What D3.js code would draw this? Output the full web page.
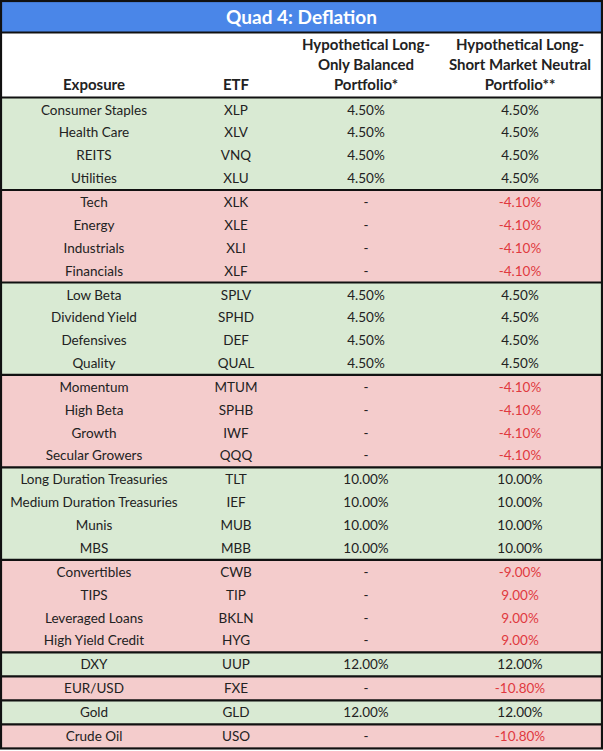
<!DOCTYPE html>
<html>
<head>
<meta charset="utf-8">
<script src="https://cdn.jsdelivr.net/npm/d3@7"></script>
<style>
  html, body { margin: 0; padding: 0; background: #fff; }
  text { font-family: Lato, "Open Sans", sans-serif; }
</style>
</head>
<body>
<div id="table"></div>
<script>
const title = "Quad 4: Deflation";
const headers = [
  ["Exposure"],
  ["ETF"],
  ["Hypothetical Long-", "Only Balanced", "Portfolio*"],
  ["Hypothetical Long-", "Short Market Neutral", "Portfolio**"]
];
const exposures = [
  "Consumer Staples", "Health Care", "REITS", "Utilities",
  "Tech", "Energy", "Industrials", "Financials",
  "Low Beta", "Dividend Yield", "Defensives", "Quality",
  "Momentum", "High Beta", "Growth", "Secular Growers",
  "Long Duration Treasuries", "Medium Duration Treasuries", "Munis", "MBS",
  "Convertibles", "TIPS", "Leveraged Loans", "High Yield Credit",
  "DXY", "EUR/USD", "Gold", "Crude Oil"
];
const etfs = [
  "XLP", "XLV", "VNQ", "XLU",
  "XLK", "XLE", "XLI", "XLF",
  "SPLV", "SPHD", "DEF", "QUAL",
  "MTUM", "SPHB", "IWF", "QQQ",
  "TLT", "IEF", "MUB", "MBB",
  "CWB", "TIP", "BKLN", "HYG",
  "UUP", "FXE", "GLD", "USO"
];
const longOnly = [
  "4.50%", "4.50%", "4.50%", "4.50%",
  "-", "-", "-", "-",
  "4.50%", "4.50%", "4.50%", "4.50%",
  "-", "-", "-", "-",
  "10.00%", "10.00%", "10.00%", "10.00%",
  "-", "-", "-", "-",
  "12.00%", "-", "12.00%", "-"
];
const longShort = [
  "4.50%", "4.50%", "4.50%", "4.50%",
  "-4.10%", "-4.10%", "-4.10%", "-4.10%",
  "4.50%", "4.50%", "4.50%", "4.50%",
  "-4.10%", "-4.10%", "-4.10%", "-4.10%",
  "10.00%", "10.00%", "10.00%", "10.00%",
  "-9.00%", "9.00%", "9.00%", "9.00%",
  "12.00%", "-10.80%", "12.00%", "-10.80%"
];
// rows per group and whether the group is long (green) or short (red)
const groupSizes = [4, 4, 4, 4, 4, 4, 1, 1, 1, 1];
const groupLong = [true, false, true, false, true, false, true, false, true, false];

const W = 603, H = 751;
const titleH = 32.5, headerBottom = 97.5;
const rowH = 22.83, gap = 1.17;
const textNudge = 1.6; // "middle" baseline sits a little high for Lato

const colors = {
  title: "#4a86e8",
  long: "#d9ead3",
  short: "#f4cccc",
  text: "#222",
  red: "#e0393e",
  line: "#111"
};

// build rows with their group index
const groupOf = [];
groupSizes.forEach((n, g) => { for (let i = 0; i < n; i++) groupOf.push(g); });
const rows = exposures.map((e, i) => ({
  exposure: e, etf: etfs[i], lo: longOnly[i], ls: longShort[i],
  row: i, group: groupOf[i]
}));

const groupStart = d3.cumsum([0, ...groupSizes]);
const groups = groupSizes.map((n, g) => ({ g, start: groupStart[g], n, long: groupLong[g] }));

const x = d3.scaleOrdinal().domain(d3.range(4)).range([94, 236, 366, 520]);
const y = d3.scaleLinear().domain([0, exposures.length]).range([headerBottom, headerBottom + exposures.length * rowH]);
const yRow = (r, g) => y(r) + g * gap;

const svg = d3.select("#table").append("svg")
  .attr("width", W).attr("height", H);

// title band
svg.append("rect").attr("x", 0).attr("y", 0).attr("width", W).attr("height", titleH)
  .attr("fill", colors.title);
svg.append("text")
  .attr("x", W / 2).attr("y", titleH / 2 + 1 + textNudge)
  .attr("text-anchor", "middle").attr("dominant-baseline", "middle")
  .attr("fill", "#fff").attr("font-weight", 700).attr("font-size", 19)
  .text(title);

// header
headers.forEach((lines, c) => {
  const n = lines.length;
  lines.forEach((t, k) => {
    svg.append("text")
      .attr("x", x(c)).attr("y", 85 + textNudge - (n - 1 - k) * 20)
      .attr("text-anchor", "middle").attr("dominant-baseline", "middle")
      .attr("fill", colors.text).attr("font-weight", 700).attr("font-size", 15)
      .text(t);
  });
});

// group backgrounds
svg.append("g").selectAll("rect").data(groups).join("rect")
  .attr("x", 0)
  .attr("y", d => yRow(d.start, d.g))
  .attr("width", W)
  .attr("height", d => yRow(d.start + d.n, d.g + 1) - yRow(d.start, d.g))
  .attr("fill", d => d.long ? colors.long : colors.short);

// cells
const cells = svg.append("g").selectAll("g").data(rows).join("g")
  .attr("transform", d => `translate(0,${yRow(d.row, d.group) + gap / 2 + rowH / 2 + textNudge})`);
const fields = ["exposure", "etf", "lo", "ls"];
fields.forEach((f, c) => {
  cells.append("text")
    .attr("x", x(c))
    .attr("text-anchor", "middle").attr("dominant-baseline", "middle")
    .attr("font-size", 13.5)
    .attr("fill", d => (c === 3 && !groupLong[d.group]) ? colors.red : colors.text)
    .text(d => d[f]);
});

// horizontal rules
const ruleYs = [titleH, ...groups.map(d => yRow(d.start, d.g))];
svg.append("g").selectAll("line").data(ruleYs).join("line")
  .attr("x1", 0).attr("x2", W)
  .attr("y1", d => d).attr("y2", d => d)
  .attr("stroke", colors.line).attr("stroke-width", 2.2);

// outer border
svg.append("rect").attr("x", 1).attr("y", 1).attr("width", W - 2).attr("height", yRow(exposures.length, groups.length) - 1)
  .attr("fill", "none").attr("stroke", colors.line).attr("stroke-width", 2.2);
</script>
</body>
</html>
